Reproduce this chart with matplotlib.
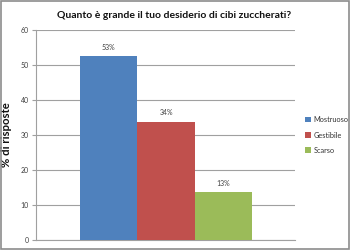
import matplotlib
matplotlib.use("Agg")
import matplotlib.pyplot as plt
from matplotlib.patches import Rectangle

plt.rcParams["font.family"] = ["Lato", "DejaVu Sans"]

categories = ["Mostruoso", "Gestibile", "Scarso"]
values = [52.6, 33.8, 13.6]
labels = ["53%", "34%", "13%"]
colors = ["#4F81BD", "#C0504D", "#9BBB59"]
yticks = [0, 10, 20, 30, 40, 50, 60]

fig = plt.figure(figsize=(3.5, 2.5), dpi=100)
fig.patch.set_facecolor("white")
fig.patches.append(Rectangle((0.002, 0.004), 0.996, 0.992, transform=fig.transFigure,
                             fill=False, edgecolor="#8c8c8c", linewidth=1.2))
ax = fig.add_axes([0.103, 0.04, 0.74, 0.84])

x = list(range(len(categories)))
bars = ax.bar(x, values, width=1.0, color=colors, label=categories, zorder=3)
for xi, v, lab in zip(x, values, labels):
    ax.text(xi, v + 1.5, lab, ha="center", va="bottom", fontsize=5, color="#404040")

ax.set_xlim(-1.27, 3.25)
ax.set_ylim(0, 60)
ax.set_yticks(yticks)
ax.set_yticklabels([str(t) for t in yticks], fontsize=5, color="#404040")
ax.set_xticks([])
ax.grid(axis="y", color="#a0a0a0", linewidth=0.8, zorder=0)
for s in ["top", "right"]:
    ax.spines[s].set_visible(False)
ax.spines["left"].set_color("#a0a0a0")
ax.spines["bottom"].set_color("#a0a0a0")
ax.tick_params(axis="y", length=3, color="#a0a0a0", pad=2)
ax.set_ylabel("% di risposte", fontsize=8.2, fontweight="bold", color="#111111")
ax.yaxis.set_label_coords(-0.093, 0.5)

fig.text(0.497, 0.94, "Quanto è grande il tuo desiderio di cibi zuccherati?",
         ha="center", va="center", fontsize=7.5, fontweight="bold", color="#111111")

leg = ax.legend(loc="center left", bbox_to_anchor=(1.02, 0.5), frameon=False,
                fontsize=5.3, handlelength=0.7, handleheight=0.7, handletextpad=0.4,
                labelspacing=1.1, borderaxespad=0.3)
for t in leg.get_texts():
    t.set_color("#333333")

fig.savefig("out.png", dpi=100)
